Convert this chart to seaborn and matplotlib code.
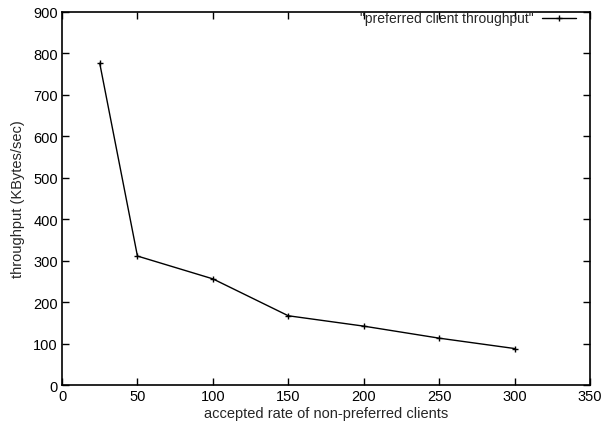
import matplotlib
matplotlib.use("Agg")
import matplotlib.pyplot as plt
import seaborn as sns
import pandas as pd

rate = [25, 50, 100, 150, 200, 250, 300]
throughput = [776, 311, 256, 167, 142, 113, 88]
series_label = '"preferred client throughput"'

sns.set_theme(style="white")
plt.rcParams['font.family'] = ['Liberation Sans', 'DejaVu Sans']

df = pd.DataFrame({"rate": rate, "throughput": throughput})

fig = plt.figure(figsize=(6.11, 4.27), dpi=100)
ax = fig.add_axes([0.1015, 0.096, 0.864, 0.874])
sns.lineplot(data=df, x="rate", y="throughput", ax=ax, color="black",
             linewidth=1.0, marker="+", markersize=5, markeredgewidth=1.0,
             markeredgecolor="black", markerfacecolor="black",
             label=series_label)

ax.set_xlim(0, 350)
ax.set_ylim(0, 900)
ax.set_xticks(range(0, 351, 50))
ax.set_yticks(range(0, 901, 100))
ax.tick_params(direction="in", length=5, width=1, top=True, right=True,
               bottom=True, left=True, labelsize=10.5, colors="black", pad=3)
for s in ax.spines.values():
    s.set_color("black")
    s.set_linewidth(1.2)
ax.set_xlabel("accepted rate of non-preferred clients", fontsize=10.5, labelpad=2)
ax.set_ylabel("throughput (KBytes/sec)", fontsize=10.5, labelpad=6)

leg = ax.legend(loc="upper right", frameon=False, markerfirst=False,
                fontsize=10, handlelength=2.5, borderaxespad=0.0,
                handletextpad=0.6, bbox_to_anchor=(0.985, 1.016))

fig.savefig("out.png", dpi=100)
